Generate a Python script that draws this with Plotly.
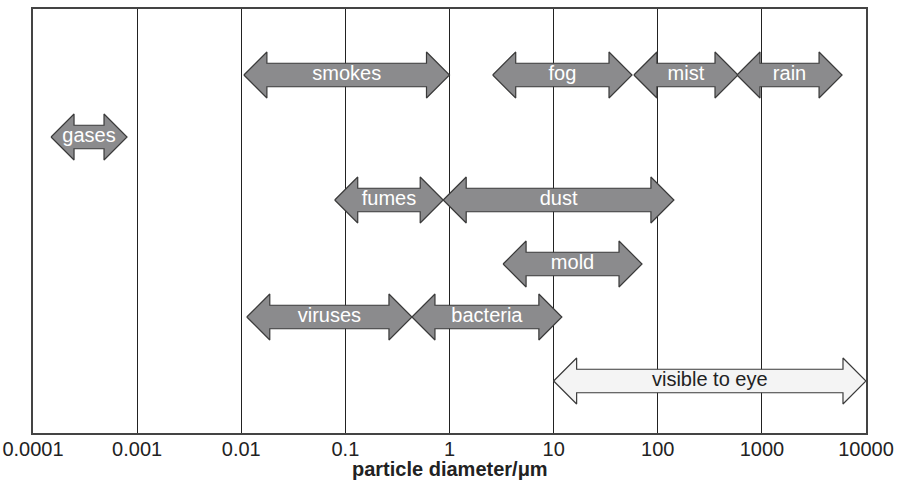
import plotly.graph_objects as go
import numpy as np

# Data: particle size ranges (micrometres)
names = ["smokes", "fog", "mist", "rain", "gases", "fumes", "dust", "mold",
         "viruses", "bacteria", "visible to eye"]
lo = [0.0106, 2.6, 59, 577, 0.000149, 0.079, 0.87, 3.27, 0.0113, 0.436, 10]
hi = [1.0, 56.6, 590, 5890, 0.0008, 0.87, 143, 70.6, 0.436, 12.0, 10000]
row = [5.728, 5.728, 5.728, 5.728, 4.736, 3.728, 3.728, 2.704, 1.856, 1.856, 0.832]
tick_vals = [0.0001, 0.001, 0.01, 0.1, 1, 10, 100, 1000, 10000]
tick_text = ["0.0001", "0.001", "0.01", "0.1", "1", "10", "100", "1000", "10000"]
x_title = "<b>particle diameter/μm</b>"

HEAD = 0.221   # head length in decades
HH = 0.368     # head half-height (y units)
SH = 0.188     # shaft half-height
FONT = "Liberation Sans, Arial"

fig = go.Figure()
for n, a, b, y in zip(names, lo, hi, row):
    L, R = np.log10(a), np.log10(b)
    xs = [L, L + HEAD, L + HEAD, R - HEAD, R - HEAD, R, R - HEAD, R - HEAD, L + HEAD, L + HEAD, L]
    ys = [y, y + HH, y + SH, y + SH, y + HH, y, y - HH, y - SH, y - SH, y - HH, y]
    light = n == "visible to eye"
    fig.add_trace(go.Scatter(
        x=[10 ** v for v in xs], y=ys, mode="lines", fill="toself",
        fillcolor="#f4f4f4" if light else "#8b8b8d",
        line=dict(color="#3a3a3a", width=1.2),
        hoverinfo="skip", showlegend=False))
    fig.add_trace(go.Scatter(
        x=[10 ** ((L + R) / 2)], y=[y], mode="text", text=[n],
        textfont=dict(family=FONT, size=20, color="#222222" if light else "white"),
        textposition="middle center", hoverinfo="skip", showlegend=False))

fig.update_xaxes(type="log", range=[-4, 4], tickvals=tick_vals, ticktext=tick_text,
                 showgrid=True, gridcolor="#222222", gridwidth=1,
                 showline=True, linecolor="#444444", linewidth=1.5, mirror=True,
                 ticks="", zeroline=False, automargin=False, ticklabelstandoff=-3,
                 tickfont=dict(family=FONT, size=20, color="#222222"))
fig.update_yaxes(range=[0, 6.784], showgrid=False, zeroline=False, showticklabels=False,
                 showline=True, linecolor="#444444", linewidth=1.5, mirror=True, ticks="",
                 automargin=False)
fig.add_annotation(text=x_title, xref="paper", yref="paper", x=0.5, y=-0.086,
                   xanchor="center", yanchor="middle", showarrow=False,
                   font=dict(family=FONT, size=20, color="#222222"))
fig.update_layout(width=901, height=481, margin=dict(l=33, r=35, t=9, b=48),
                  plot_bgcolor="white", paper_bgcolor="white")
fig.write_html("out.html", config={"displayModeBar": False},
               post_script="document.body.style.margin='0';")
